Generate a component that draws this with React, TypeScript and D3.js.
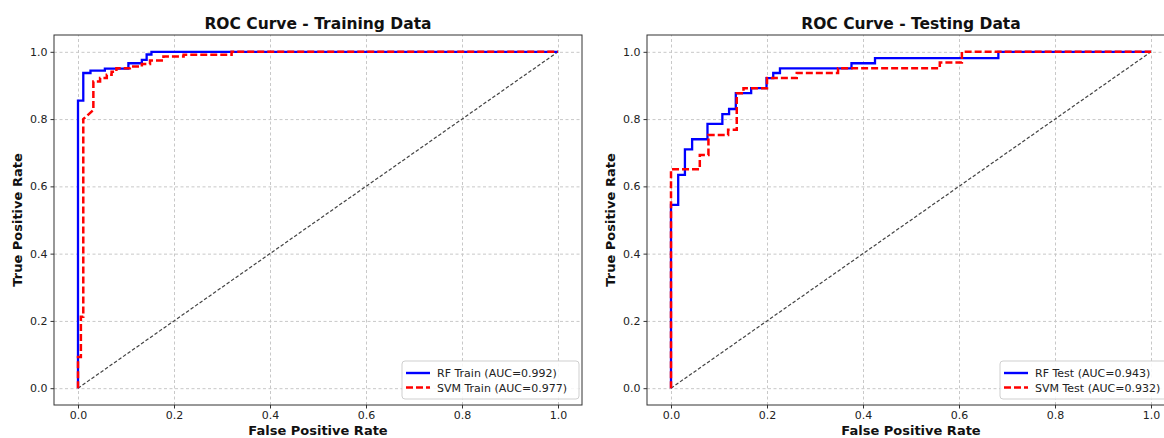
import { useEffect, useRef } from "react";
import * as d3 from "d3";

// tick values shared by both axes
const ticks = [0, 0.2, 0.4, 0.6, 0.8, 1.0];

// training ROC corner points
const rfTrainFpr = [0, 0, 0.011, 0.011, 0.026, 0.026, 0.056, 0.056, 0.105, 0.105, 0.133, 0.133, 0.143, 0.143, 0.153, 0.153, 1];
const rfTrainTpr = [0, 0.855, 0.855, 0.937, 0.937, 0.944, 0.944, 0.95, 0.95, 0.966, 0.966, 0.976, 0.976, 0.992, 0.992, 1, 1];
const svmTrainFpr = [0, 0, 0.006, 0.006, 0.011, 0.011, 0.032, 0.032, 0.046, 0.046, 0.06, 0.06, 0.07, 0.07, 0.08, 0.08, 0.108, 0.108, 0.133, 0.133, 0.15, 0.15, 0.178, 0.178, 0.22, 0.22, 0.32, 0.32, 1];
const svmTrainTpr = [0, 0.093, 0.093, 0.212, 0.212, 0.8, 0.827, 0.912, 0.912, 0.922, 0.922, 0.932, 0.932, 0.941, 0.941, 0.951, 0.951, 0.956, 0.956, 0.964, 0.964, 0.974, 0.974, 0.986, 0.986, 0.991, 0.991, 1, 1];

// testing ROC corner points
const rfTestFpr = [0, 0, 0.015, 0.015, 0.029, 0.029, 0.044, 0.044, 0.076, 0.076, 0.107, 0.107, 0.121, 0.121, 0.135, 0.135, 0.167, 0.167, 0.199, 0.199, 0.213, 0.213, 0.227, 0.227, 0.376, 0.376, 0.425, 0.425, 0.682, 0.682, 1];
const rfTestTpr = [0, 0.545, 0.545, 0.634, 0.634, 0.71, 0.71, 0.74, 0.74, 0.786, 0.786, 0.815, 0.815, 0.83, 0.83, 0.877, 0.877, 0.892, 0.892, 0.922, 0.922, 0.937, 0.937, 0.951, 0.951, 0.966, 0.966, 0.981, 0.981, 1, 1];
const svmTestFpr = [0, 0, 0.06, 0.06, 0.078, 0.078, 0.119, 0.119, 0.137, 0.137, 0.151, 0.151, 0.2, 0.2, 0.262, 0.262, 0.348, 0.348, 0.56, 0.56, 0.606, 0.606, 1];
const svmTestTpr = [0, 0.651, 0.651, 0.693, 0.693, 0.753, 0.753, 0.768, 0.768, 0.877, 0.877, 0.892, 0.892, 0.922, 0.922, 0.937, 0.937, 0.951, 0.951, 0.968, 0.968, 1, 1];

const titles = ["ROC Curve - Training Data", "ROC Curve - Testing Data"];
const rfLabels = ["RF Train (AUC=0.992)", "RF Test (AUC=0.943)"];
const svmLabels = ["SVM Train (AUC=0.977)", "SVM Test (AUC=0.932)"];

const W = 1164;
const H = 438;
const FONT = "DejaVu Sans, sans-serif";

const zip = (xs: number[], ys: number[]) => xs.map((x, i) => [x, ys[i]] as [number, number]);

export default function App() {
  const ref = useRef<SVGSVGElement>(null);

  useEffect(() => {
    const el = ref.current;
    if (!el) return;
    const svg = d3.select(el);
    svg.selectAll("*").remove();

    const panels = [
      { left: 54, right: 582, legendW: 177, rf: zip(rfTrainFpr, rfTrainTpr), svm: zip(svmTrainFpr, svmTrainTpr) },
      { left: 647, right: 1175, legendW: 172, rf: zip(rfTestFpr, rfTestTpr), svm: zip(svmTestFpr, svmTestTpr) },
    ];
    const top = 35, bottom = 405;

    panels.forEach((p, i) => {
      const x = d3.scaleLinear().domain([-0.05, 1.05]).range([p.left, p.right]);
      const y = d3.scaleLinear().domain([-0.05, 1.05]).range([bottom, top]);
      const g = svg.append("g");

      // grid
      g.append("g")
        .attr("transform", `translate(0,${bottom})`)
        .call(d3.axisBottom(x).tickValues(ticks).tickSize(-(bottom - top)).tickFormat(() => ""))
        .call((a) => a.select(".domain").remove())
        .call((a) => a.selectAll(".tick line").attr("stroke", "#c8c8c8").attr("stroke-dasharray", "3,2.5"));
      g.append("g")
        .attr("transform", `translate(${p.left},0)`)
        .call(d3.axisLeft(y).tickValues(ticks).tickSize(-(p.right - p.left)).tickFormat(() => ""))
        .call((a) => a.select(".domain").remove())
        .call((a) => a.selectAll(".tick line").attr("stroke", "#c8c8c8").attr("stroke-dasharray", "3,2.5"));

      // axes with labels
      g.append("g")
        .attr("transform", `translate(0,${bottom})`)
        .call(d3.axisBottom(x).tickValues(ticks).tickSize(3.5).tickPadding(3).tickFormat(d3.format(".1f")))
        .call((a) => a.select(".domain").remove())
        .call((a) => a.selectAll(".tick line").attr("stroke", "#333"))
        .call((a) => a.selectAll(".tick text").attr("fill", "#222").style("font-size", "11px").style("font-family", FONT));
      g.append("g")
        .attr("transform", `translate(${p.left},0)`)
        .call(d3.axisLeft(y).tickValues(ticks).tickSize(3.5).tickPadding(3).tickFormat(d3.format(".1f")))
        .call((a) => a.select(".domain").remove())
        .call((a) => a.selectAll(".tick line").attr("stroke", "#333"))
        .call((a) => a.selectAll(".tick text").attr("fill", "#222").style("font-size", "11px").style("font-family", FONT));

      // diagonal
      g.append("line")
        .attr("x1", x(0)).attr("y1", y(0)).attr("x2", x(1)).attr("y2", y(1))
        .attr("stroke", "#444").attr("stroke-width", 1.2).attr("stroke-dasharray", "3.5,2");

      const line = d3.line<[number, number]>().x((d) => x(d[0])).y((d) => y(d[1]));
      g.append("path").attr("d", line(p.rf)).attr("fill", "none")
        .attr("stroke", "#0000ff").attr("stroke-width", 2.3);
      g.append("path").attr("d", line(p.svm)).attr("fill", "none")
        .attr("stroke", "#ff0000").attr("stroke-width", 2.5).attr("stroke-dasharray", "7,3");

      // frame
      g.append("rect")
        .attr("x", p.left).attr("y", top).attr("width", p.right - p.left).attr("height", bottom - top)
        .attr("fill", "none").attr("stroke", "#333").attr("stroke-width", 1);

      // title and labels
      const cx = (p.left + p.right) / 2;
      g.append("text").attr("x", cx).attr("y", 29).attr("text-anchor", "middle")
        .style("font-family", FONT).style("font-size", "15.5px").style("font-weight", "bold")
        .attr("fill", "#111").text(titles[i]);
      g.append("text").attr("x", cx).attr("y", 435).attr("text-anchor", "middle")
        .style("font-family", FONT).style("font-size", "13px").style("font-weight", "bold")
        .attr("fill", "#111").text("False Positive Rate");
      g.append("text")
        .attr("transform", `translate(${p.left - 32},${(top + bottom) / 2}) rotate(-90)`)
        .attr("text-anchor", "middle")
        .style("font-family", FONT).style("font-size", "13px").style("font-weight", "bold")
        .attr("fill", "#111").text("True Positive Rate");

      // legend
      const lx = p.right - 3 - p.legendW;
      const lb = bottom - 6;
      const leg = g.append("g");
      leg.append("rect").attr("x", lx).attr("y", lb - 38).attr("width", p.legendW).attr("height", 38)
        .attr("rx", 3).attr("fill", "white").attr("fill-opacity", 0.85).attr("stroke", "#cfcfcf");
      [[rfLabels[i], "#0000ff", ""], [svmLabels[i], "#ff0000", "7,3"]].forEach(([label, c, dash], k) => {
        const ry = lb - 26 + k * 14.5;
        leg.append("line").attr("x1", lx + 4).attr("x2", lx + 28).attr("y1", ry).attr("y2", ry)
          .attr("stroke", c).attr("stroke-width", 2.4).attr("stroke-dasharray", dash || null);
        leg.append("text").attr("x", lx + 35).attr("y", ry + 4)
          .style("font-family", FONT).style("font-size", "11px").attr("fill", "#222").text(label);
      });
    });
  }, []);

  return (
    <svg ref={ref} width={W} height={H} viewBox={`0 0 ${W} ${H}`}
      style={{ position: "absolute", left: 0, top: 0, background: "white", display: "block" }} />
  );
}
